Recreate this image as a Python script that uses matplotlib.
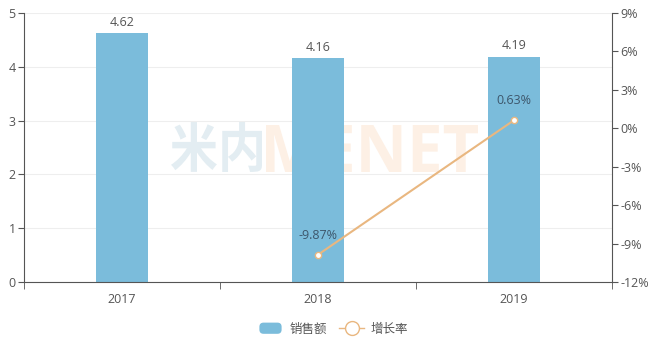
import matplotlib
matplotlib.use("Agg")
import matplotlib.pyplot as plt
from matplotlib.patches import FancyBboxPatch, PathPatch
from matplotlib.lines import Line2D
from matplotlib.legend_handler import HandlerPatch
from matplotlib.textpath import TextPath
from matplotlib.font_manager import FontProperties
from matplotlib.transforms import Affine2D, IdentityTransform

years = ["2017", "2018", "2019"]
sales = [4.62, 4.16, 4.19]
growth_years = ["2018", "2019"]
growth = [-9.87, 0.63]
left_ticks = [0, 1, 2, 3, 4, 5]
right_ticks = [-12, -9, -6, -3, 0, 3, 6, 9]

bar_color = "#7bbcdb"
line_color = "#e9b780"
axis_color = "#555555"
text_color = "#555555"

plt.rcParams["font.family"] = ["Open Sans", "Noto Sans CJK SC", "DejaVu Sans"]

W, H = 653, 345
fig = plt.figure(figsize=(W / 100, H / 100), dpi=100)
ax = fig.add_axes([24 / W, (H - 282) / H, (612 - 24) / W, (282 - 13) / H])
ax2 = ax.twinx()


def watermark(text, family, box, color):
    """Fit a text outline into a pixel box (x0, y0, x1, y1), image coordinates."""
    tp = TextPath((0, 0), text, size=100, prop=FontProperties(family=family, weight="bold"))
    ext = tp.get_extents()
    x0, y0, x1, y1 = box
    sx = (x1 - x0) / ext.width
    sy = (y1 - y0) / ext.height
    tr = (Affine2D().translate(-ext.x0, -ext.y0).scale(sx, sy)
          .translate(x0, H - y1))
    patch = PathPatch(tr.transform_path(tp), facecolor=color, edgecolor="none",
                      transform=IdentityTransform(), zorder=-1)
    fig.patches.append(patch)


watermark("米内", "Noto Sans CJK SC", (171, 122, 262, 172), "#e3edf2")
watermark("MENET", "Open Sans", (266, 125, 478, 172), "#fdf0e5")

x = list(range(len(years)))
ax.bar(x, sales, width=0.27, color=bar_color, zorder=2)
for xi, v in zip(x, sales):
    ax.text(xi, v + 0.08, f"{v:.2f}", ha="center", va="bottom", fontsize=9, color=text_color)

ax.set_xlim(-0.5, len(years) - 0.5)
ax.set_ylim(0, 5)
ax.set_yticks(left_ticks)
ax.set_yticklabels([str(t) for t in left_ticks])
ax.set_xticks(x)
ax.set_xticklabels(years)
ax.set_xticks([-0.5, 0.5, 1.5, 2.5], minor=True)
ax.tick_params(axis="x", which="major", length=0, pad=8, labelsize=9, colors=text_color)
ax.tick_params(axis="x", which="minor", length=5, color=axis_color)
ax.tick_params(axis="y", length=4, pad=2, labelsize=9, colors=text_color, color=axis_color)
ax.grid(axis="y", color="#eeeeee", linewidth=0.8, zorder=0)
ax.set_axisbelow(True)
for s in ["top", "right"]:
    ax.spines[s].set_visible(False)
ax.spines["left"].set_color(axis_color)
ax.spines["bottom"].set_color(axis_color)

gx = [years.index(y) for y in growth_years]
ax2.plot(gx, growth, color=line_color, linewidth=1.5, zorder=3,
         marker="o", markersize=4.5, markerfacecolor="white",
         markeredgecolor=line_color, markeredgewidth=1)
for xi, v in zip(gx, growth):
    ax2.text(xi, v + 1.0, f"{v:.2f}%", ha="center", va="bottom", fontsize=9, color="#3d566b")
ax2.set_ylim(-12, 9)
ax2.set_yticks(right_ticks)
ax2.set_yticklabels([f"{t}%" for t in right_ticks])
ax2.tick_params(axis="y", length=4, pad=2, labelsize=9, colors=text_color, color=axis_color)
for s in ["top", "left", "bottom"]:
    ax2.spines[s].set_visible(False)
ax2.spines["right"].set_color(axis_color)

ax.patch.set_alpha(0)
ax2.patch.set_alpha(0)


class RoundRectHandler(HandlerPatch):
    def create_artists(self, legend, orig_handle, xdescent, ydescent, width, height, fontsize, trans):
        p = FancyBboxPatch((-xdescent + 1, -ydescent), width - 2, height,
                           boxstyle="round,pad=0,rounding_size=3",
                           facecolor=bar_color, edgecolor="none", transform=trans)
        return [p]


bar_handle = FancyBboxPatch((0, 0), 1, 1, facecolor=bar_color)
line_handle = Line2D([], [], color=line_color, linewidth=1, marker="o", markersize=10,
                     markerfacecolor="white", markeredgecolor=line_color)
fig.legend([bar_handle, line_handle], ["销售额", "增长率"], loc="center",
           bbox_to_anchor=(333 / W, 1 - 329 / H), ncol=2, frameon=False,
           handler_map={FancyBboxPatch: RoundRectHandler()},
           prop={"family": ["Noto Sans CJK SC"], "size": 9},
           handlelength=2.0, handleheight=1.0, columnspacing=1.0, handletextpad=0.5,
           labelcolor=text_color)

fig.savefig("out.png", dpi=100)
